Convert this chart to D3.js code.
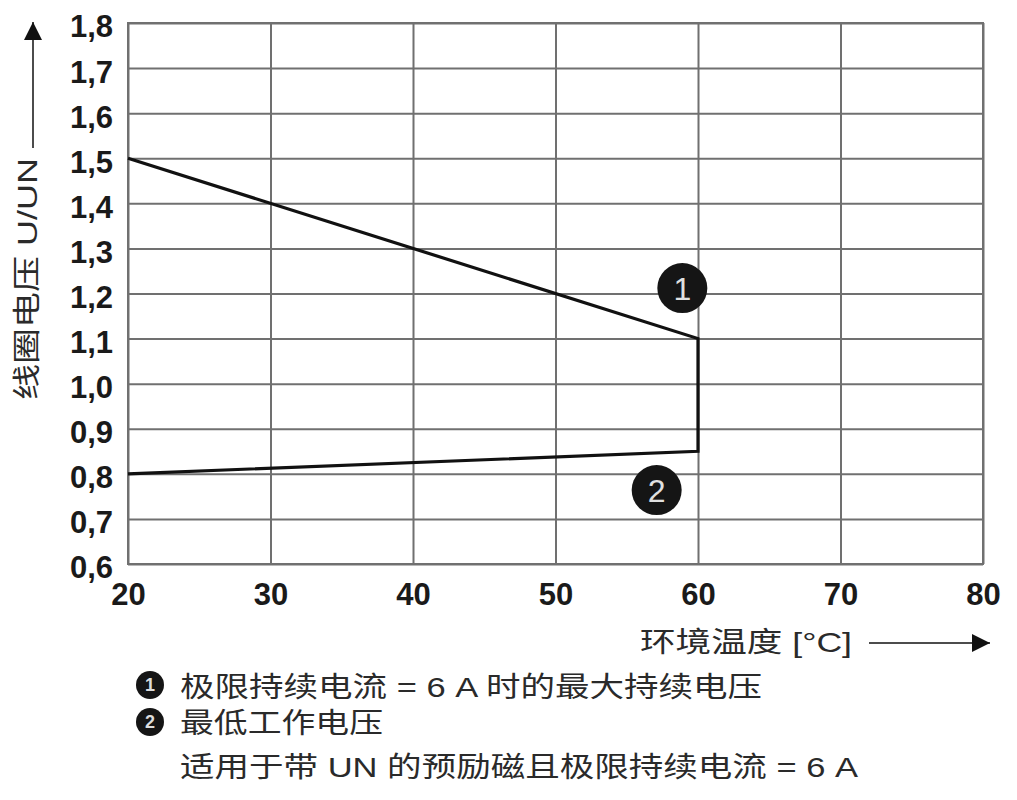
<!DOCTYPE html>
<html>
<head>
<meta charset="utf-8">
<script src="https://cdn.jsdelivr.net/npm/d3@7"></script>
<style>
	body { margin: 0; background: #fff; }
	svg { display: block; }
	.grid line { stroke: #707070; stroke-width: 2; }
	.grid .domain { display: none; }
	.grid text { font-family: "Liberation Sans", Arial, sans-serif; font-weight: bold; font-size: 31px; fill: #1a1a1a; }
	.cjk { font-family: "Liberation Sans", "Noto Sans CJK SC", sans-serif; fill: #2a2a2a; }
</style>
</head>
<body>
<svg id="chart" width="1017" height="800"></svg>
<script>
"use strict";

// axis ticks
var xTicks = [20, 30, 40, 50, 60, 70, 80];
var yTicks = [0.6, 0.7, 0.8, 0.9, 1.0, 1.1, 1.2, 1.3, 1.4, 1.5, 1.6, 1.7, 1.8];

// the curve: max continuous voltage down the right side to min operating voltage
var curveTemp = [20, 60, 60, 20];
var curveVolt = [1.5, 1.1, 0.85, 0.8];

// numbered callouts inside the chart
var markerTemp = [58.9, 57.1];
var markerVolt = [1.212, 0.764];
var markerLabels = ["1", "2"];

var yTitle = "线圈电压 U/UN";
var xTitle = "环境温度 [°C]";
var legendRows = [
	"极限持续电流 = 6 A 时的最大持续电压",
	"最低工作电压",
	"适用于带 UN 的预励磁且极限持续电流 = 6 A"
];

var margin = {left: 128, top: 23};
var width = 983 - 128;
var height = 564 - 23;

var svg = d3.select("#chart");

// arrowhead used by both axis titles
svg.append("defs").append("marker")
	.attr("id", "arrow")
	.attr("viewBox", "0 0 10 10")
	.attr("refX", 10).attr("refY", 5)
	.attr("markerUnits", "userSpaceOnUse")
	.attr("markerWidth", 30).attr("markerHeight", 18)
	.attr("orient", "auto")
	.append("path")
	.attr("d", "M0,0L10,5L0,10Z")
	.attr("fill", "#111");

var all = svg.append("g")
	.attr("transform", `translate(${margin.left}, ${margin.top})`);

var x = d3.scaleLinear().domain([20, 80]).range([0, width]);
var y = d3.scaleLinear().domain([0.6, 1.8]).range([height, 0]);

// grid lines double as the axes
all.append("g")
	.classed("grid", true)
	.call(d3.axisLeft(y)
		.tickValues(yTicks)
		.tickSize(-width)
		.tickPadding(15)
		.tickFormat(d => d3.format(".1f")(d).replace(".", ",")))
	.selectAll("text")
	.attr("dy", "0.45em");

all.append("g")
	.classed("grid", true)
	.attr("transform", `translate(0, ${height})`)
	.call(d3.axisBottom(x)
		.tickValues(xTicks)
		.tickSize(-height)
		.tickPadding(19));

all.append("rect")
	.attr("width", width)
	.attr("height", height)
	.attr("fill", "none")
	.attr("stroke", "#707070")
	.attr("stroke-width", 2);

// the curve itself
var line = d3.line()
	.x(d => x(d[0]))
	.y(d => y(d[1]));

all.append("path")
	.datum(curveTemp.map((t, i) => [t, curveVolt[i]]))
	.attr("d", line)
	.attr("fill", "none")
	.attr("stroke", "#111")
	.attr("stroke-width", 3.2)
	.attr("stroke-linejoin", "miter");

// numbered callouts
var marks = all.selectAll(".marker")
	.data(markerLabels)
	.enter()
	.append("g")
	.classed("marker", true)
	.attr("transform", (d, i) => `translate(${x(markerTemp[i])}, ${y(markerVolt[i])})`);

marks.append("circle")
	.attr("r", 25)
	.attr("fill", "#151515");

marks.append("text")
	.text(d => d)
	.attr("text-anchor", "middle")
	.attr("dy", "0.36em")
	.attr("font-family", "Liberation Sans, Arial, sans-serif")
	.attr("font-size", 32)
	.attr("fill", "#e0e0e0");

// y axis title with arrow
svg.append("line")
	.attr("x1", 33).attr("x2", 33)
	.attr("y1", 148).attr("y2", 22)
	.attr("stroke", "#111")
	.attr("stroke-width", 1.5)
	.attr("marker-end", "url(#arrow)");

svg.append("text")
	.classed("cjk", true)
	.text(yTitle)
	.attr("transform", "translate(27, 400) rotate(-90)")
	.attr("dy", "0.36em")
	.attr("font-size", 28)
	.attr("textLength", 242)
	.attr("lengthAdjust", "spacingAndGlyphs");

// x axis title with arrow
svg.append("text")
	.classed("cjk", true)
	.text(xTitle)
	.attr("x", 640).attr("y", 642)
	.attr("dy", "0.36em")
	.attr("font-size", 28)
	.attr("textLength", 212)
	.attr("lengthAdjust", "spacingAndGlyphs");

svg.append("line")
	.attr("x1", 869).attr("x2", 990)
	.attr("y1", 643).attr("y2", 643)
	.attr("stroke", "#111")
	.attr("stroke-width", 1.5)
	.attr("marker-end", "url(#arrow)");

// legend below the chart
var legendY = [687, 723, 767];
var legendW = [582, 203, 678];

svg.selectAll(".legendrow")
	.data(legendRows)
	.enter()
	.append("text")
	.classed("cjk", true)
	.classed("legendrow", true)
	.text(d => d)
	.attr("x", 180)
	.attr("y", (d, i) => legendY[i])
	.attr("dy", "0.36em")
	.attr("font-size", 28)
	.attr("textLength", (d, i) => legendW[i])
	.attr("lengthAdjust", "spacingAndGlyphs");

var legendMarks = svg.selectAll(".legendmark")
	.data(markerLabels)
	.enter()
	.append("g")
	.classed("legendmark", true)
	.attr("transform", (d, i) => `translate(150, ${[685, 722][i]})`);

legendMarks.append("circle")
	.attr("r", 14)
	.attr("fill", "#151515");

legendMarks.append("text")
	.text(d => d)
	.attr("text-anchor", "middle")
	.attr("dy", "0.36em")
	.attr("font-family", "Liberation Sans, Arial, sans-serif")
	.attr("font-weight", "bold")
	.attr("font-size", 18)
	.attr("fill", "#ddd");
</script>
</body>
</html>
